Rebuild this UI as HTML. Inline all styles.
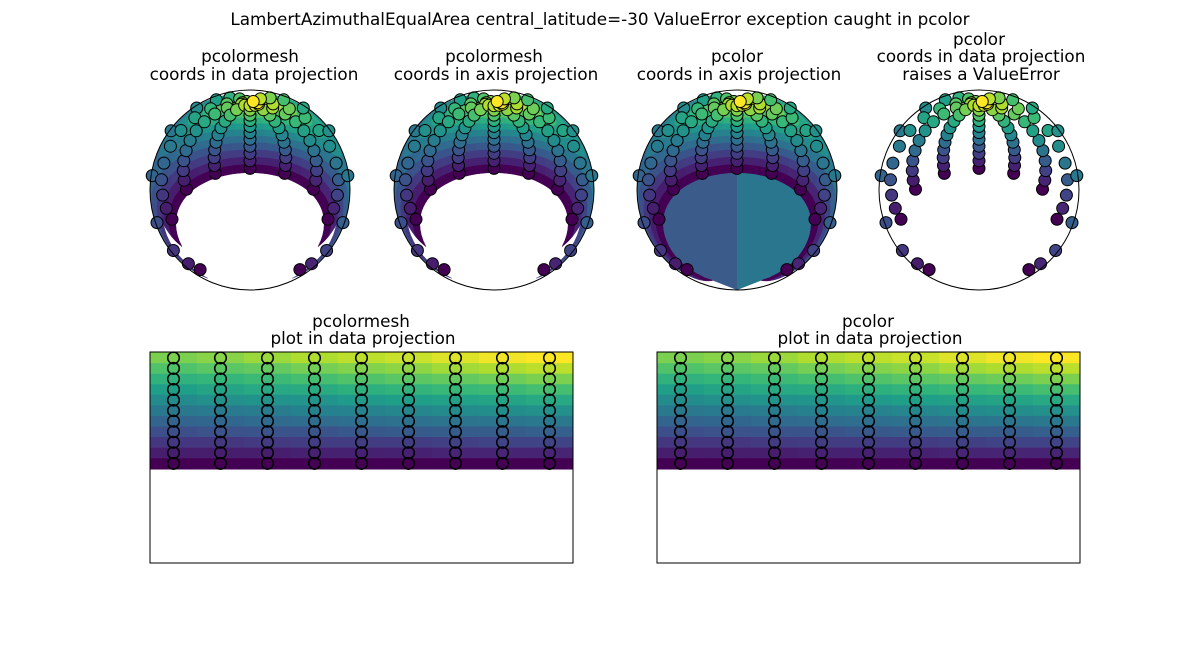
<!DOCTYPE html>
<html><head><meta charset="utf-8"><style>
body{margin:0;background:#fff}
svg text{font-family:"DejaVu Sans","Liberation Sans",sans-serif;font-size:16.8px;fill:#000}
</style></head><body>
<svg id="fig" width="1200" height="640" xmlns="http://www.w3.org/2000/svg">
<text x="600" y="25" text-anchor="middle">LambertAzimuthalEqualArea central_latitude=-30 ValueError exception caught in pcolor</text>
<text x="250" y="62" text-anchor="middle">pcolormesh</text>
<text x="254" y="80" text-anchor="middle">coords in data projection</text>
<text x="494" y="62" text-anchor="middle">pcolormesh</text>
<text x="496" y="80" text-anchor="middle">coords in axis projection</text>
<text x="737" y="62" text-anchor="middle">pcolor</text>
<text x="739" y="80" text-anchor="middle">coords in axis projection</text>
<text x="979" y="45" text-anchor="middle">pcolor</text>
<text x="981" y="62" text-anchor="middle">coords in data projection</text>
<text x="981" y="80" text-anchor="middle">raises a ValueError</text>
<text x="361" y="327" text-anchor="middle">pcolormesh</text>
<text x="363" y="344" text-anchor="middle">plot in data projection</text>
<text x="868" y="327" text-anchor="middle">pcolor</text>
<text x="870" y="344" text-anchor="middle">plot in data projection</text>
</svg>
<script>
const lons=[-160,-120,-80,-40,0,40,80,120,160];
const lats=[85,76,67,58,49,40,31,22,13,4,-5];
const values=[
[80,82,85,88,90,92,95,98,100],
[72,74,76,79,81,83,86,88,90],
[64,66,68,70,72,74,76,78,80],
[56,58,60,61,63,65,67,68,70],
[48,50,51,52,54,56,57,58,60],
[40,41,42,44,45,46,48,49,50],
[32,33,34,35,36,37,38,39,40],
[24,25,26,26,27,28,29,29,30],
[16,16,17,18,18,18,19,20,20],
[8,8,8,9,9,9,10,10,10],
[0,0,0,0,0,0,0,0,0]];
const NS="http://www.w3.org/2000/svg";
const svg=document.getElementById('fig');
const vir=[[68,1,84],[72,40,120],[62,74,137],[49,104,142],[38,130,142],[31,158,137],[53,183,121],[109,205,89],[180,222,44],[253,231,37]];
function cmap(v){let t=Math.max(0,Math.min(1,v/100))*9;let i=Math.min(8,Math.floor(t)),f=t-i;const a=vir[i],b=vir[i+1];return 'rgb('+a.map((c,k)=>Math.round(c+(b[k]-c)*f)).join(',')+')';}
function el(tag,attrs,parent){const e=document.createElementNS(NS,tag);for(const k in attrs)e.setAttribute(k,attrs[k]);(parent||svg).appendChild(e);return e;}
const lonE=lons.map(l=>l-20).concat([180]);
const latE=[90];
for(let i=1;i<lats.length;i++)latE.push((lats[i-1]+lats[i])/2);
latE.push(-10);
const R=50,phi0=-30*Math.PI/180;
function proj(lat,lon,cx,cy){const p=lat*Math.PI/180,l=lon*Math.PI/180;
let d=1+Math.sin(phi0)*Math.sin(p)+Math.cos(phi0)*Math.cos(p)*Math.cos(l);if(d<1e-6)d=1e-6;
const k=Math.sqrt(2/d);return [cx+R*k*Math.cos(p)*Math.sin(l), cy-R*k*(Math.cos(phi0)*Math.sin(p)-Math.sin(phi0)*Math.cos(p)*Math.cos(l))];}
const centers=[250,494,737,979],cy=190;
centers.forEach((cx,pi)=>{
  const g=el('g',{});
  
  
  const cid='clip'+pi;
  const cp=el('clipPath',{id:cid},g);el('circle',{cx:cx,cy:cy,r:100},cp);
  const inner=el('g',{'clip-path':'url(#'+cid+')'},g);
  if(pi===2){
    const lp=el('path',{d:`M${cx} ${cy-20} L${cx-99} ${cy-20} L${cx-97} ${cy+30} L${cx-82} ${cy+68} L${cx} ${cy+100} Z`,fill:'#3b5b8b'},inner);
    
    const rp=el('path',{d:`M${cx} ${cy-20} L${cx+99} ${cy-20} L${cx+97} ${cy+30} L${cx+82} ${cy+68} L${cx} ${cy+100} Z`,fill:'#2a768e'},inner);
    
  }
  if(pi<3){
    for(let r=0;r<lats.length;r++)for(let c=0;c<lons.length;c++){
      const outer=(c===0||c===lons.length-1);
      if(outer&&pi<2&&lats[r]<10)continue;
      const pts=[];const N=8;
      const a0=latE[r],a1=latE[r+1];
      const o0=Math.max(lonE[c],-170),o1=Math.min(lonE[c+1],170);
      for(let s=0;s<=N;s++)pts.push(proj(a0,o0+(o1-o0)*s/N,cx,cy));
      for(let s=0;s<=N;s++)pts.push(proj(a0+(a1-a0)*s/N,o1,cx,cy));
      for(let s=0;s<=N;s++)pts.push(proj(a1,o1-(o1-o0)*s/N,cx,cy));
      for(let s=0;s<=N;s++)pts.push(proj(a1-(a1-a0)*s/N,o0,cx,cy));
      const p=el('polygon',{points:pts.map(q=>q[0].toFixed(1)+','+q[1].toFixed(1)).join(' '),fill:cmap(values[r][c]),stroke:cmap(values[r][c]),'stroke-width':0.5},inner);
      
      
    }
  }
  for(let c=0;c<lons.length;c++)for(let r=lats.length-1;r>=0;r--){
    const q=proj(lats[r],lons[c],cx,cy);
    const m=el('circle',{cx:q[0].toFixed(1),cy:q[1].toFixed(1),r:6,fill:cmap(values[r][c]),stroke:'#000','stroke-width':1},g);
    
    
  }
  const b=el('circle',{cx:cx,cy:cy,r:100,fill:'none',stroke:'#000','stroke-width':1},g);
  
  
});
[150,657].forEach((x0,pi)=>{
  const W=423,H=211,y0=352;
  const X=lon=>x0+(lon+180)*W/360, Y=lat=>y0+(90-lat)*H/180;
  const g=el('g',{});
  
  
  for(let r=0;r<lats.length;r++)for(let c=0;c<lons.length;c++){
    const rc=el('rect',{x:X(lonE[c]),y:Y(latE[r]),width:X(lonE[c+1])-X(lonE[c])+0.3,height:Y(latE[r+1])-Y(latE[r])+0.3,fill:cmap(values[r][c])},g);
    
    
  }
  for(let c=0;c<lons.length;c++)for(let r=0;r<lats.length;r++){
    const m=el('circle',{cx:X(lons[c]).toFixed(1),cy:Y(lats[r]).toFixed(1),r:5.8,fill:'none',stroke:'#000','stroke-width':1.5},g);
    
    
  }
  const f=el('rect',{x:x0,y:y0,width:W,height:H,fill:'none',stroke:'#000','stroke-width':1},g);
  
  
});
</script>
</body></html>
